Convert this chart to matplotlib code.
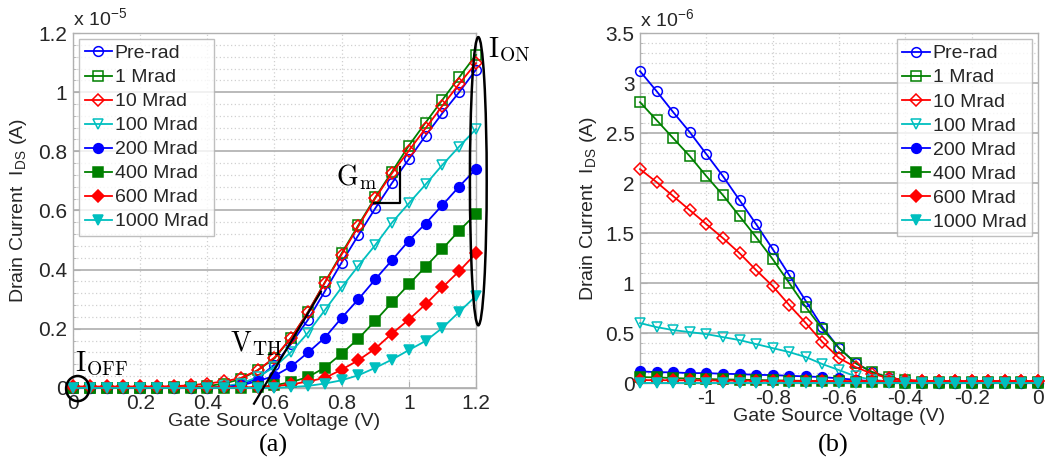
import numpy as np
import matplotlib
matplotlib.use("Agg")
import matplotlib.pyplot as plt
from matplotlib.patches import Ellipse
from matplotlib.ticker import FuncFormatter, MultipleLocator

plt.rcParams['font.family'] = ['Liberation Sans', 'DejaVu Sans']
plt.rcParams['mathtext.fontset'] = 'custom'
plt.rcParams['mathtext.rm'] = 'Liberation Sans'
plt.rcParams['mathtext.it'] = 'Liberation Sans:italic'
plt.rcParams['mathtext.bf'] = 'Liberation Sans:bold'

# --- data (drain current in 1e-6 A) ---
vgs_a = np.linspace(0, 1.2, 25)
vgs_b = np.linspace(-1.2, 0, 25)
labels = ['Pre-rad', '1 Mrad', '10 Mrad', '100 Mrad', '200 Mrad', '400 Mrad', '600 Mrad', '1000 Mrad']

pre_rad_a = [0, 0, 0, 0, 0, 0, 0, 0, 0, 0.03, 0.12, 0.32, 0.79, 1.50, 2.31, 3.27, 4.24, 5.17, 6.07, 6.93, 7.73, 8.53, 9.29, 10.00, 10.76]
mrad1_a = [0.01, 0.01, 0.01, 0.01, 0.01, 0.01, 0.02, 0.03, 0.06, 0.15, 0.30, 0.60, 1.00, 1.70, 2.57, 3.57, 4.55, 5.51, 6.44, 7.31, 8.19, 8.97, 9.74, 10.50, 11.26]
mrad10_a = [0.05, 0.05, 0.05, 0.05, 0.05, 0.05, 0.06, 0.09, 0.15, 0.22, 0.34, 0.60, 1.03, 1.70, 2.57, 3.56, 4.51, 5.47, 6.41, 7.26, 8.02, 8.78, 9.54, 10.28, 10.98]
mrad100_a = [0, 0, 0, 0, 0, 0, 0, 0, 0.01, 0.06, 0.15, 0.37, 0.71, 1.22, 1.87, 2.63, 3.40, 4.13, 4.83, 5.59, 6.24, 6.88, 7.54, 8.16, 8.75]
mrad200_a = [0, 0, 0, 0, 0, 0, 0, 0, 0, 0.03, 0.09, 0.23, 0.41, 0.73, 1.20, 1.70, 2.37, 3.00, 3.67, 4.32, 4.98, 5.56, 6.18, 6.81, 7.40]
mrad400_a = [0, 0, 0, 0, 0, 0, 0, 0, 0, 0, 0, 0.03, 0.09, 0.20, 0.37, 0.69, 1.16, 1.67, 2.27, 2.89, 3.50, 4.10, 4.70, 5.32, 5.88]
mrad600_a = [0.02, 0.02, 0.02, 0.02, 0.02, 0.02, 0.02, 0.02, 0.02, 0.02, 0.02, 0.02, 0.06, 0.12, 0.22, 0.34, 0.62, 0.94, 1.33, 1.84, 2.31, 2.83, 3.40, 3.95, 4.55]
mrad1000_a = [0, 0, 0, 0, 0, 0, 0, 0, 0, 0, 0, 0, 0, 0.03, 0.07, 0.15, 0.26, 0.43, 0.68, 0.96, 1.28, 1.59, 2.03, 2.57, 3.11]

pre_rad_b = [3.12, 2.92, 2.71, 2.51, 2.29, 2.07, 1.83, 1.59, 1.34, 1.08, 0.82, 0.56, 0.35, 0.20, 0.11, 0.05, 0.023, 0.01, 0.005, 0.005, 0.005, 0.005, 0.005, 0.005, 0.005]
mrad1_b = [2.81, 2.63, 2.45, 2.27, 2.07, 1.88, 1.67, 1.46, 1.24, 1.00, 0.76, 0.54, 0.35, 0.20, 0.11, 0.057, 0.027, 0.015, 0.01, 0.01, 0.01, 0.01, 0.01, 0.01, 0.01]
mrad10_b = [2.14, 2.01, 1.87, 1.73, 1.59, 1.45, 1.30, 1.13, 0.97, 0.78, 0.60, 0.41, 0.25, 0.16, 0.093, 0.05, 0.033, 0.023, 0.02, 0.02, 0.02, 0.02, 0.02, 0.02, 0.02]
mrad100_b = [0.60, 0.56, 0.53, 0.51, 0.49, 0.46, 0.43, 0.39, 0.35, 0.31, 0.26, 0.19, 0.13, 0.067, 0.033, 0.017, 0.008, 0.005, 0.005, 0.005, 0.005, 0.005, 0.005, 0.005, 0.005]
mrad200_b = [0.117, 0.11, 0.107, 0.10, 0.10, 0.093, 0.09, 0.083, 0.08, 0.073, 0.067, 0.06, 0.047, 0.033, 0.017, 0.008, 0.004, 0.003, 0.003, 0.003, 0.003, 0.003, 0.003, 0.003, 0.003]
mrad400_b = [0.06, 0.057, 0.05, 0.045, 0.04, 0.037, 0.034, 0.031, 0.028, 0.025, 0.022, 0.02, 0.017, 0.013, 0.01, 0.007, 0.005, 0.005, 0.005, 0.005, 0.005, 0.005, 0.005, 0.005, 0.005]
mrad600_b = [0.03, 0.029, 0.028, 0.027, 0.026, 0.025, 0.024, 0.023, 0.022, 0.021, 0.02, 0.02, 0.02, 0.02, 0.02, 0.02, 0.02, 0.02, 0.02, 0.02, 0.02, 0.02, 0.02, 0.02, 0.02]
mrad1000_b = [0.005] * 25

data_a = [pre_rad_a, mrad1_a, mrad10_a, mrad100_a, mrad200_a, mrad400_a, mrad600_a, mrad1000_a]
data_b = [pre_rad_b, mrad1_b, mrad10_b, mrad100_b, mrad200_b, mrad400_b, mrad600_b, mrad1000_b]

blue, green, red, cyan = '#0000ff', '#008000', '#ff0000', '#00bfbf'
styles = [(blue, 'o', 'none'), (green, 's', 'none'), (red, 'D', 'none'), (cyan, 'v', 'none'),
          (blue, 'o', blue), (green, 's', green), (red, 'D', red), (cyan, 'v', cyan)]
msizes = [7, 6.5, 6, 7, 7, 6.5, 6, 7]

fig = plt.figure(figsize=(10.53, 4.61), dpi=100)
ax1 = fig.add_axes([0.0693, 0.1584, 0.3827, 0.770])
ax2 = fig.add_axes([0.6078, 0.169, 0.378, 0.759])

frame = '#b0b0b0'
txt = '#262626'


def style_axes(ax, major, minor, power):
    ax.set_axisbelow(True)
    ax.yaxis.set_major_locator(MultipleLocator(major * 10 ** power))
    ax.yaxis.set_minor_locator(MultipleLocator(minor * 10 ** power))
    ax.yaxis.set_major_formatter(FuncFormatter(lambda v, p: f"{v / 10 ** power:g}"))
    ax.grid(True, which='major', axis='y', color='#b4b4b4', lw=1.3, ls='-')
    ax.grid(True, which='minor', axis='y', color='#d0d0d0', lw=0.9, ls=(0, (1, 2)))
    ax.grid(True, which='major', axis='x', color='#d0d0d0', lw=0.9, ls=(0, (1, 2)))
    ax.tick_params(which='both', direction='in', colors=frame, labelcolor=txt, labelsize=15)
    ax.tick_params(which='major', length=5, pad=4)
    ax.tick_params(which='minor', length=2.5)
    for s in ax.spines.values():
        s.set_color(frame)
        s.set_linewidth(1.0)
    ax.set_xlabel('Gate Source Voltage (V)', fontsize=14, color=txt, labelpad=0)
    ax.set_ylabel('Drain Current  I$_{\\mathrm{DS}}$ (A)', fontsize=14, color=txt)
    ax.text(0.0, 1.01, 'x 10$^{\\mathrm{%d}}$' % power, transform=ax.transAxes,
            fontsize=14, color=txt, ha='left', va='bottom')


for ax, xs, series in [(ax1, vgs_a, data_a), (ax2, vgs_b, data_b)]:
    for vals, lab, (c, m, fc), ms in zip(series, labels, styles, msizes):
        ax.plot(xs, np.array(vals) * 1e-6, color=c, marker=m, mfc=fc, mec=c, ms=ms,
                mew=1.1, lw=1.3, label=lab, clip_on=False, zorder=3)

style_axes(ax1, 0.2, 0.04, -5)
ax1.set_xlim(0, 1.2)
ax1.set_ylim(0, 1.2e-5)
ax1.set_xticks([0, 0.2, 0.4, 0.6, 0.8, 1.0, 1.2])
ax1.xaxis.set_major_formatter(FuncFormatter(lambda v, p: f"{v:g}"))
ax1.yaxis.set_label_coords(-0.109, 0.5)

style_axes(ax2, 0.5, 0.1, -6)
ax2.set_xlim(-1.2, 0)
ax2.set_ylim(0, 3.5e-6)
ax2.set_xticks([-1.0, -0.8, -0.6, -0.4, -0.2, 0])
ax2.xaxis.set_major_formatter(FuncFormatter(lambda v, p: f"{v:g}"))
ax2.yaxis.set_label_coords(-0.103, 0.5)

leg_kw = dict(fontsize=14, frameon=True, fancybox=False, edgecolor=frame, labelspacing=0.33,
              handlelength=1.4, handletextpad=0.15, borderpad=0.3, borderaxespad=0.3)
l1 = ax1.legend(loc='upper left', **leg_kw)
l2 = ax2.legend(loc='upper right', **leg_kw)
for lg in (l1, l2):
    lg.get_frame().set_linewidth(1.0)
    for t in lg.get_texts():
        t.set_color(txt)

# annotations on (a)
ax1.add_patch(Ellipse((1.207, 0.699e-5), 0.05, 0.974e-5, fill=False, ec='black', lw=1.8,
                      clip_on=False, zorder=5))
ax1.add_patch(Ellipse((0.014, -0.002e-5), 0.069, 0.085e-5, fill=False, ec='black', lw=1.8,
                      clip_on=False, zorder=5))
ax1.plot([0.897, 0.973, 0.973], [0.626e-5, 0.626e-5, 0.748e-5], color='black', lw=1.6, zorder=5)
ax1.plot([0.539, 0.738], [-0.053e-5, 0.325e-5], color='black', lw=1.6, clip_on=False, zorder=5)
ann = dict(fontsize=20, ha='left', va='center', math_fontfamily='cm')
ax1.text(1.235, 1.143e-5, '$\\mathrm{I_{ON}}$', **ann)
ax1.text(0.782, 0.714e-5, '$\\mathrm{G_{m}}$', **ann)
ax1.text(0.469, 0.149e-5, '$\\mathrm{V_{TH}}$', **ann)
ax1.text(0.007, 0.082e-5, '$\\mathrm{I_{OFF}}$', **ann)

fig.text(273 / 1053, 1 - 445 / 461, '(a)', fontsize=19, family='Liberation Serif', ha='center', va='center')
fig.text(833 / 1053, 1 - 445 / 461, '(b)', fontsize=19, family='Liberation Serif', ha='center', va='center')

fig.savefig('out.png', dpi=100)
